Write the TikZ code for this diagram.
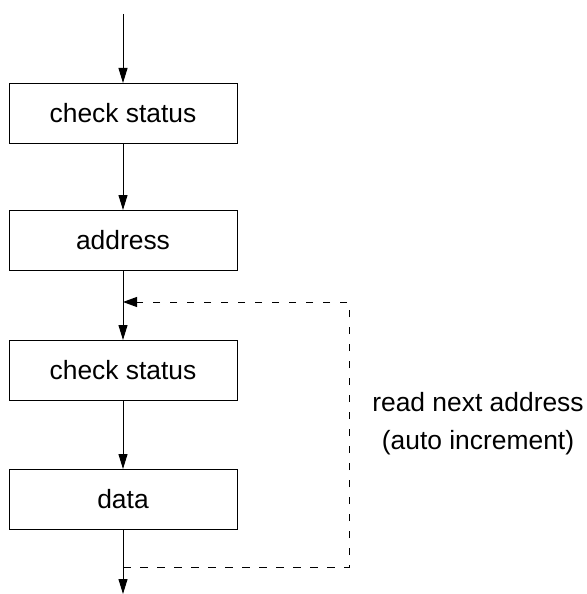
\documentclass[tikz,border=0pt]{standalone}
\usepackage{fontspec}
\setmainfont{Liberation Sans}
\usetikzlibrary{arrows.meta,positioning}
\begin{document}
\begin{tikzpicture}[x=1pt,y=1pt,line width=1pt,
   >={Triangle[length=15pt,width=9pt]},
   stage/.style={draw,minimum width=228pt,minimum height=60pt,inner sep=0pt,outer sep=0pt,
     font=\fontsize{26.4}{38}\selectfont}]
   \useasboundingbox (0,0) rectangle (586,-594);

   % Stages
   \node[stage] (status1) at (123,-113) {check status};
   \node[stage, below=67pt of status1] (addr) {address};
   \node[stage, below=70pt of addr] (status2) {check status};
   \node[stage, below=69pt of status2] (data) {data};

   \coordinate (start) at (123,-14);
   \coordinate (finish) at (123,-594);
   \coordinate (loopin) at (123,-302);
   \coordinate (loopout) at (123,-567);
   \coordinate (corner) at (349,-567);

   % Draw flow
   \draw [->] (start) -- (status1);
   \draw [->] (status1) -- (addr);
   \draw [->] (addr) -- (status2);
   \draw [->] (status2) -- (data);
   \draw [->] (data) -- (finish);

   % Loop back
   \draw [->, >={Triangle[length=14pt,width=10pt]}, dash pattern=on 7.5pt off 9.5pt]
     (loopout) -- (corner) |- (loopin);
   \node [align=center, font=\fontsize{26.4}{38}\selectfont] (note) at (478,-424)
     {read next address\\(auto increment)};
\end{tikzpicture}
\end{document}
